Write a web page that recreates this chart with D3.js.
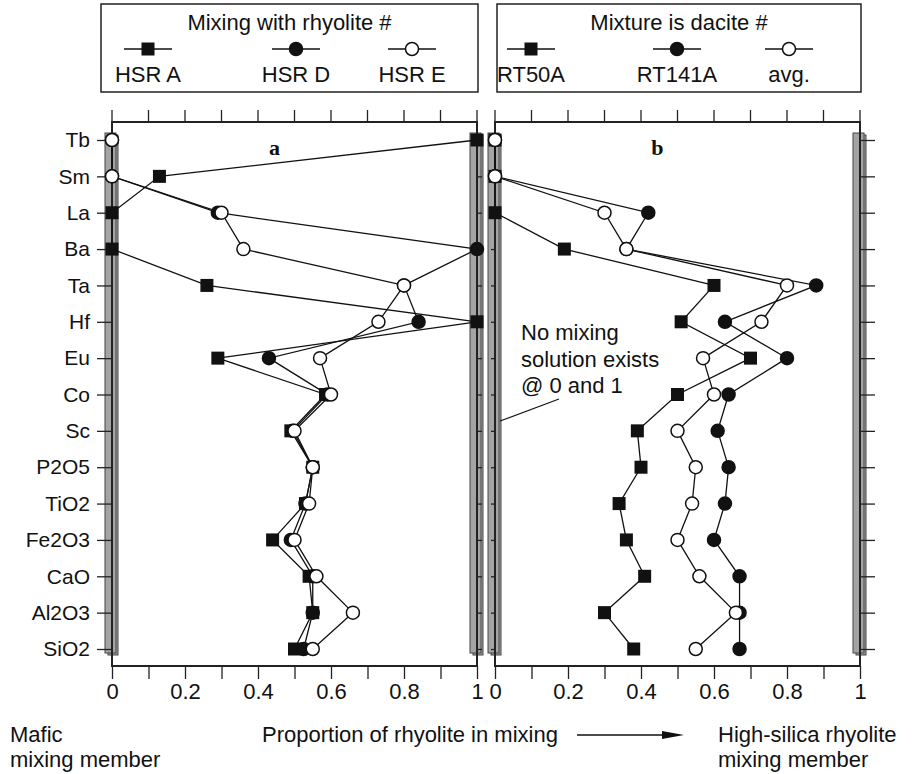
<!DOCTYPE html>
<html>
<head>
<meta charset="utf-8">
<script src="https://cdn.jsdelivr.net/npm/d3@7"></script>
<style>
  body { margin: 0; background: #fff; }
  text { font-family: Arial, "Liberation Sans", sans-serif; fill: #111; }
</style>
</head>
<body>
<div id="chart"></div>
<script>
// ==============================
// Data
// ==============================
var categories = ["Tb", "Sm", "La", "Ba", "Ta", "Hf", "Eu", "Co", "Sc", "P2O5", "TiO2", "Fe2O3", "CaO", "Al2O3", "SiO2"];

// panel a: mixing with rhyolite #
var hsrA = [1.0, 0.13, 0, 0, 0.26, 1.0, 0.29, 0.585, 0.49, 0.55, 0.53, 0.44, 0.54, 0.55, 0.50];
var hsrD = [0, 0, 0.29, 1.0, 0.80, 0.84, 0.43, 0.59, 0.495, 0.55, 0.53, 0.49, 0.55, 0.55, 0.525];
var hsrE = [0, 0, 0.30, 0.36, 0.80, 0.73, 0.57, 0.60, 0.50, 0.55, 0.54, 0.50, 0.56, 0.66, 0.55];

// panel b: mixture is dacite #
var rt50a = [0, 0, 0, 0.19, 0.60, 0.51, 0.70, 0.50, 0.39, 0.40, 0.34, 0.36, 0.41, 0.30, 0.38];
var rt141a = [0, 0, 0.42, 0.36, 0.88, 0.63, 0.80, 0.64, 0.61, 0.64, 0.63, 0.60, 0.67, 0.67, 0.67];
var avgMix = [0, 0, 0.30, 0.36, 0.80, 0.73, 0.57, 0.60, 0.50, 0.55, 0.54, 0.50, 0.56, 0.66, 0.55];

var legendA = ["HSR A", "HSR D", "HSR E"];
var legendB = ["RT50A", "RT141A", "avg."];
var markerTypes = ["square", "filled", "open"];

var xTicks = [0, 0.1, 0.2, 0.3, 0.4, 0.5, 0.6, 0.7, 0.8, 0.9, 1];
var xTickLabels = ["0", "", "0.2", "", "0.4", "", "0.6", "", "0.8", "", "1"];

// ==============================
// SVG setup
// ==============================
var svgWidth = 912, svgHeight = 774;
var svg = d3.select("#chart").append("svg")
  .attr("width", svgWidth)
  .attr("height", svgHeight);

svg.append("rect").attr("width", svgWidth).attr("height", svgHeight).attr("fill", "#fff");

var plotTop = 122, plotBottom = 666;
var y = d3.scalePoint().domain(categories).range([140, 649]);

var panels = [
  { key: "a", x: d3.scaleLinear().domain([0, 1]).range([112, 477]), series: [hsrA, hsrD, hsrE],
    leftTick: 15, rightTick: 5, yLabels: true },
  { key: "b", x: d3.scaleLinear().domain([0, 1]).range([495, 860]), series: [rt50a, rt141a, avgMix],
    leftTick: 4, rightTick: 15, yLabels: false }
];

var defs = svg.append("defs");
defs.append("marker")
  .attr("id", "arrow")
  .attr("viewBox", "0 0 22 10")
  .attr("refX", 0).attr("refY", 5)
  .attr("markerWidth", 22).attr("markerHeight", 10)
  .attr("markerUnits", "userSpaceOnUse")
  .attr("orient", "auto")
  .append("path").attr("d", "M0,1 L22,5 L0,9 Z").attr("fill", "#111");

// draw one marker symbol
function drawMarker(g, type, cx, cy) {
  if (type === "square") {
    g.append("rect")
      .attr("x", cx - 6.5).attr("y", cy - 6.5)
      .attr("width", 13).attr("height", 13)
      .attr("fill", "#111");
  } else {
    g.append("circle")
      .attr("cx", cx).attr("cy", cy).attr("r", 6.5)
      .attr("fill", type === "filled" ? "#111" : "#fff")
      .attr("stroke", "#111").attr("stroke-width", 1.5);
  }
}

panels.forEach(function (p) {
  var g = svg.append("g").attr("class", "panel-" + p.key);
  var x = p.x;

  // Gray "no solution" bars at 0 and 1
  [0, 1].forEach(function (v) {
    var bx = x(v);
    var by0 = y(categories[0]) - 7, by1 = y(categories[categories.length - 1]) + 4;
    g.append("rect")
      .attr("x", bx - 4).attr("y", by0 + 2)
      .attr("width", 10).attr("height", by1 - by0)
      .attr("fill", "#a4a4a4").attr("stroke", "#444").attr("stroke-width", 1);
    g.append("rect")
      .attr("x", bx - 7).attr("y", by0)
      .attr("width", 11).attr("height", by1 - by0)
      .attr("fill", "#a4a4a4").attr("stroke", "#444").attr("stroke-width", 1);
  });

  // Top ticks (no labels)
  g.append("g").selectAll("line")
    .data(xTicks)
    .join("line")
    .attr("x1", function (d) { return x(d); })
    .attr("x2", function (d) { return x(d); })
    .attr("y1", plotTop - 12)
    .attr("y2", plotTop)
    .attr("stroke", "#222").attr("stroke-width", 1.3);

  // Other axes
  var axBot = g.append("g").attr("transform", "translate(0," + plotBottom + ")")
    .call(d3.axisBottom(x).tickValues(xTicks).tickSize(13).tickSizeOuter(0).tickPadding(4)
      .tickFormat(function (d, i) { return xTickLabels[i]; }));
  var axLeft = g.append("g").attr("transform", "translate(" + x(0) + ",0)")
    .call(d3.axisLeft(y).tickSize(p.leftTick).tickSizeOuter(0).tickPadding(7)
      .tickFormat(p.yLabels ? null : function () { return ""; }));
  var axRight = g.append("g").attr("transform", "translate(" + x(1) + ",0)")
    .call(d3.axisRight(y).tickSize(p.rightTick).tickSizeOuter(0).tickFormat(function () { return ""; }));

  [axBot, axLeft, axRight].forEach(function (ax) {
    ax.select(".domain").remove();
    ax.selectAll(".tick line").attr("stroke", "#222").attr("stroke-width", 1.3);
    ax.selectAll("text")
      .style("font-family", "Arial, 'Liberation Sans', sans-serif")
      .style("font-size", "22px")
      .attr("fill", "#111");
  });
  axLeft.selectAll("text").style("font-size", "21px");

  // Frame
  g.append("rect")
    .attr("x", x(0)).attr("y", plotTop)
    .attr("width", x(1) - x(0)).attr("height", plotBottom - plotTop)
    .attr("fill", "none").attr("stroke", "#222").attr("stroke-width", 2);

  // Panel letter
  g.append("text")
    .attr("x", x(0.445)).attr("y", 155)
    .attr("text-anchor", "middle")
    .style("font-family", "'Liberation Serif', 'Times New Roman', serif")
    .style("font-weight", "bold")
    .style("font-size", "22px")
    .text(p.key);

  // Series lines
  var line = d3.line()
    .x(function (d) { return x(d.v); })
    .y(function (d) { return y(d.c); });

  p.series.forEach(function (s) {
    var pts = s.map(function (v, i) { return { c: categories[i], v: v }; });
    g.append("path")
      .attr("d", line(pts))
      .attr("fill", "none")
      .attr("stroke", "#111")
      .attr("stroke-width", 1.3);
  });

  // Series markers
  p.series.forEach(function (s, si) {
    var mg = g.append("g");
    s.forEach(function (v, i) {
      drawMarker(mg, markerTypes[si], x(v), y(categories[i]));
    });
  });
});

// ==============================
// Legends
// ==============================
function drawLegend(bx, bw, title, names, centers) {
  var lg = svg.append("g");
  lg.append("rect")
    .attr("x", bx).attr("y", 4).attr("width", bw).attr("height", 88)
    .attr("fill", "#fff").attr("stroke", "#222").attr("stroke-width", 1.5);
  lg.append("text")
    .attr("x", bx + bw / 2).attr("y", 30)
    .attr("text-anchor", "middle").style("font-size", "22px")
    .text(title);
  names.forEach(function (n, i) {
    var cx = centers[i];
    lg.append("line")
      .attr("x1", cx - 24).attr("x2", cx + 24)
      .attr("y1", 49).attr("y2", 49)
      .attr("stroke", "#111").attr("stroke-width", 1.3);
    drawMarker(lg, markerTypes[i], cx, 49);
    lg.append("text")
      .attr("x", cx).attr("y", 82)
      .attr("text-anchor", "middle").style("font-size", "22px")
      .text(n);
  });
}
drawLegend(101, 377, "Mixing with rhyolite #", legendA, [148, 296, 412]);
drawLegend(497, 364, "Mixture is dacite #", legendB, [531, 677, 789]);

// ==============================
// Annotation
// ==============================
var note = ["No mixing", "solution exists", "@ 0 and 1"];
note.forEach(function (t, i) {
  svg.append("text")
    .attr("x", 521).attr("y", 340 + i * 26.5)
    .style("font-size", "22px")
    .text(t);
});
svg.append("line")
  .attr("x1", 559).attr("y1", 399)
  .attr("x2", 500).attr("y2", 421)
  .attr("stroke", "#111").attr("stroke-width", 1.2);

// ==============================
// Bottom captions
// ==============================
var captions = [
  { x: 10, y: 742, t: "Mafic" },
  { x: 10, y: 767, t: "mixing member" },
  { x: 262, y: 742, t: "Proportion of rhyolite in mixing" },
  { x: 718, y: 742, t: "High-silica rhyolite" },
  { x: 718, y: 767, t: "mixing member" }
];
captions.forEach(function (c) {
  svg.append("text").attr("x", c.x).attr("y", c.y).style("font-size", "22px").text(c.t);
});
svg.append("line")
  .attr("x1", 577).attr("y1", 735)
  .attr("x2", 662).attr("y2", 735)
  .attr("stroke", "#111").attr("stroke-width", 1.5)
  .attr("marker-end", "url(#arrow)");
</script>
</body>
</html>
